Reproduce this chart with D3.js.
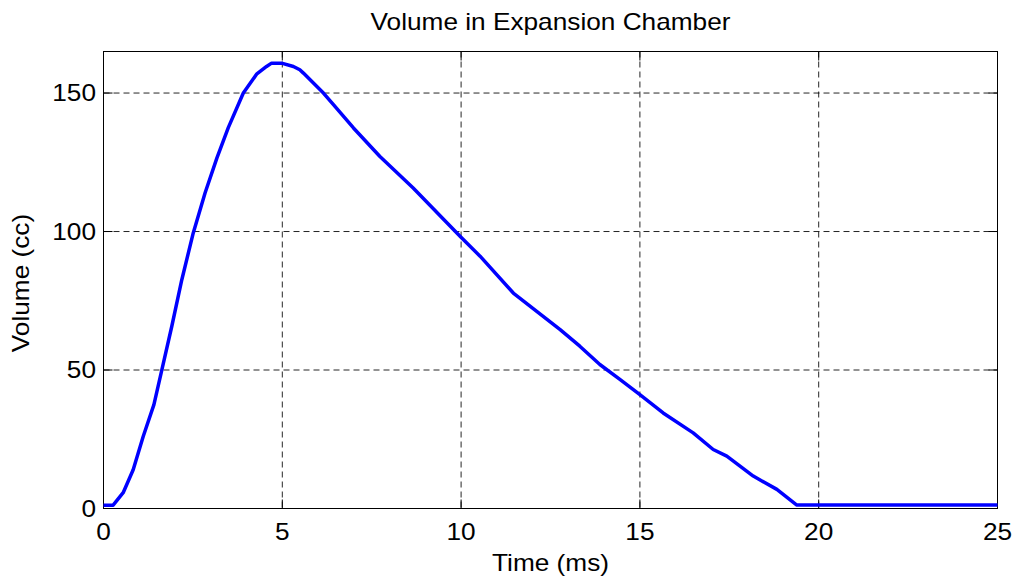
<!DOCTYPE html>
<html lang="en">
<head>
    <meta charset="UTF-8">
    <title>Volume in Expansion Chamber</title>
    <script src="https://cdn.jsdelivr.net/npm/d3@7"></script>
    <style>
        body {
            margin: 0;
            background: #fff;
        }

        svg text {
            font-family: "Liberation Sans", Arial, Helvetica, sans-serif;
            font-size: 23px;
            fill: #000;
        }

        .grid line {
            stroke: #000;
            stroke-width: 1;
            stroke-dasharray: 6, 4;
            opacity: 0.85;
        }

        .frame line, .frame rect {
            stroke: #000;
            stroke-width: 1;
            fill: none;
        }
    </style>
</head>
<body>
<svg id="chart" width="1017" height="582"></svg>
<script>
    // time (ms) / volume (cc)
    var time = [0, 0.27, 0.55, 0.83, 1.11, 1.41, 1.63, 1.91, 2.19, 2.51, 2.84, 3.17, 3.49, 3.91,
        4.28, 4.56, 4.70, 4.98, 5.31, 5.49, 5.59, 6.15, 6.43, 6.99, 7.73, 8.66, 9.97, 10.53,
        11.46, 12.77, 13.32, 13.88, 14.44, 15.0, 15.65, 16.49, 17.05, 17.43, 18.17, 18.83,
        19.38, 25];
    var volume = [1.2, 1.2, 5.7, 14, 26, 37.5, 50, 65.8, 82.6, 99.5, 113.9, 126.5, 137.5, 150,
        156.8, 159.6, 160.8, 160.8, 159.6, 158.4, 157.2, 150, 145.8, 137.4, 127.1, 115.7, 98.3, 91.1,
        77.8, 64.6, 58.6, 52, 46.6, 41.1, 34.5, 27.3, 21.3, 18.9, 11.7, 6.9,
        1.3, 1.3];

    var xTicks = [0, 5, 10, 15, 20, 25];
    var yTicks = [0, 50, 100, 150];

    var titleText = 'Volume in Expansion Chamber',
        xLabel = 'Time (ms)',
        yLabel = 'Volume (cc)';

    var stretch = 1.14; // glyphs in the picture are wider than Arial
    var pLeft = 103.5, pRight = 997.5, pTop = 51.5, pBottom = 508.5;

    var x = d3.scaleLinear().domain([0, 25]).range([pLeft, pRight]);
    var y = d3.scaleLinear().domain([0, 165]).range([pBottom, pTop]);

    var svg = d3.select('#chart');
    svg.append('rect').attr('width', 1017).attr('height', 582).attr('fill', '#fff');

    // dashed grid
    var grid = svg.append('g').attr('class', 'grid');
    grid.selectAll('line.gx')
        .data(xTicks.filter(d => d > 0 && d < 25))
        .enter().append('line')
        .attr('class', 'gx')
        .attr('x1', d => x(d)).attr('x2', d => x(d))
        .attr('y1', pTop).attr('y2', pBottom);
    grid.selectAll('line.gy')
        .data(yTicks.filter(d => d > 0))
        .enter().append('line')
        .attr('class', 'gy')
        .attr('x1', pLeft).attr('x2', pRight)
        .attr('y1', d => y(d)).attr('y2', d => y(d));

    // box with inward ticks on all four sides
    var frame = svg.append('g').attr('class', 'frame');
    frame.append('rect')
        .attr('x', pLeft).attr('y', pTop)
        .attr('width', pRight - pLeft).attr('height', pBottom - pTop);

    var tl = 9;
    xTicks.forEach(function (t) {
        frame.append('line').attr('x1', x(t)).attr('x2', x(t)).attr('y1', pBottom).attr('y2', pBottom - tl);
        frame.append('line').attr('x1', x(t)).attr('x2', x(t)).attr('y1', pTop).attr('y2', pTop + tl);
    });
    yTicks.forEach(function (t) {
        frame.append('line').attr('x1', pLeft).attr('x2', pLeft + tl).attr('y1', y(t)).attr('y2', y(t));
        frame.append('line').attr('x1', pRight).attr('x2', pRight - tl).attr('y1', y(t)).attr('y2', y(t));
    });

    // the curve
    var line = d3.line()
        .x((d, i) => x(time[i]))
        .y(d => y(d));
    svg.append('path')
        .datum(volume)
        .attr('fill', 'none')
        .attr('stroke', '#0000ff')
        .attr('stroke-width', 3.5)
        .attr('stroke-linejoin', 'round')
        .attr('d', line);

    function label(px, py, txt, anchor, rot) {
        var g = svg.append('g')
            .attr('transform', 'translate(' + px + ',' + py + ')' + (rot ? ' rotate(' + rot + ')' : '') +
                ' scale(' + stretch + ',1)');
        g.append('text').attr('text-anchor', anchor).text(txt);
    }

    xTicks.forEach(t => label(x(t), 540, t, 'middle'));
    yTicks.forEach(t => label(96, y(t) + 8, t, 'end'));

    label((pLeft + pRight) / 2, 29.5, titleText, 'middle');
    label((pLeft + pRight) / 2, 571, xLabel, 'middle');
    label(29, (pTop + pBottom) / 2 + 3, yLabel, 'middle', -90);
</script>
</body>
</html>
